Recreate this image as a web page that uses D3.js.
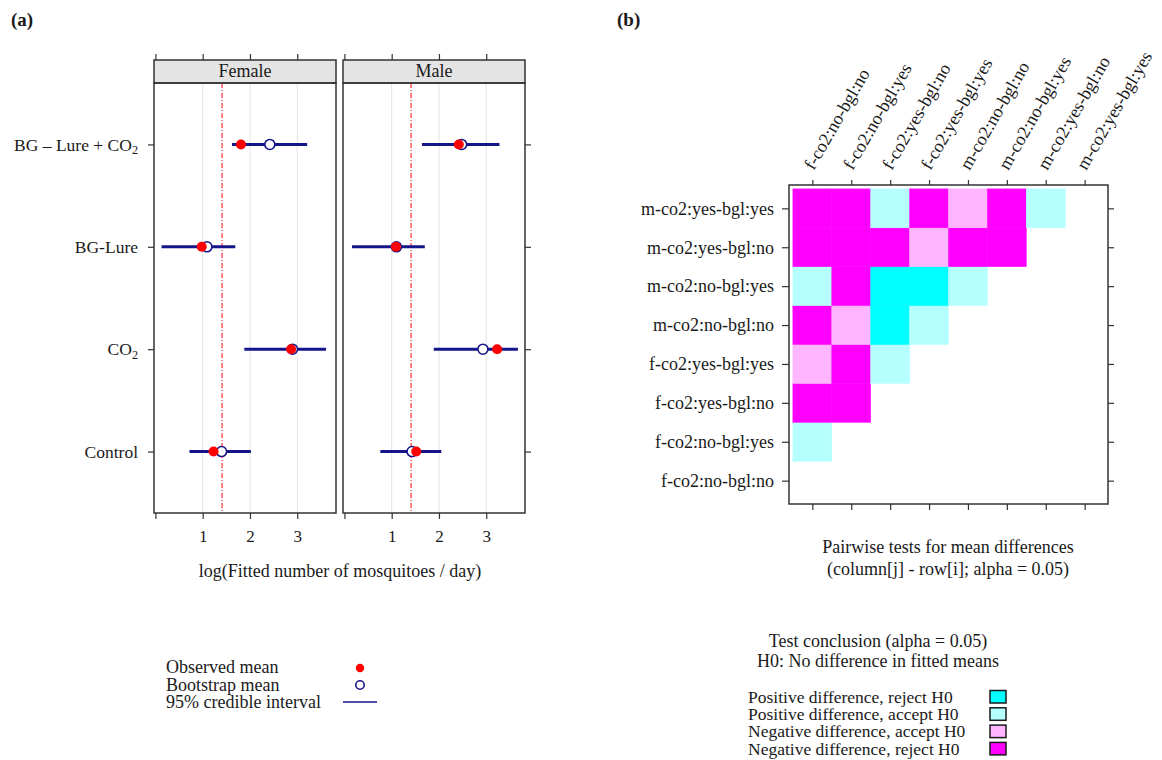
<!DOCTYPE html>
<html>
<head>
<meta charset="utf-8">
<script src="https://cdn.jsdelivr.net/npm/d3@7"></script>
<style>
  body { margin: 0; background: #fff; }
  svg { display: block; font-family: 'Liberation Serif', 'Times New Roman', serif; }
</style>
</head>
<body>
<div id="area"></div>
<script>
let width = 1162
let height = 760

// panel (a): log fitted mosquitoes per day
let treatments = ['BG – Lure + CO2', 'BG-Lure', 'CO2', 'Control']
let sexes = ['Female', 'Male']
let femaleObserved = [1.81, 0.98, 2.87, 1.23]
let femaleBootstrap = [2.42, 1.09, 2.90, 1.40]
let femaleLower = [1.62, 0.13, 1.88, 0.72]
let femaleUpper = [3.21, 1.69, 3.61, 2.02]
let maleObserved = [2.42, 1.09, 3.23, 1.52]
let maleBootstrap = [2.48, 1.10, 2.93, 1.43]
let maleLower = [1.64, 0.16, 1.89, 0.76]
let maleUpper = [3.28, 1.70, 3.67, 2.05]
let overallMean = 1.41
let xTicks = [0, 1, 2, 3]
let xTickLabels = ['', '1', '2', '3']
let legendA = ['Observed mean', 'Bootstrap mean', '95% credible interval']

// panel (b): pairwise tests, row i against columns j < i
let groups = ['f-co2:no-bgl:no', 'f-co2:no-bgl:yes', 'f-co2:yes-bgl:no', 'f-co2:yes-bgl:yes',
              'm-co2:no-bgl:no', 'm-co2:no-bgl:yes', 'm-co2:yes-bgl:no', 'm-co2:yes-bgl:yes']
// 1 = positive reject, 2 = positive accept, 3 = negative accept, 4 = negative reject
let testCodes = [
  [],
  [2],
  [4, 4],
  [3, 4, 2],
  [4, 3, 1, 2],
  [2, 4, 1, 1, 2],
  [4, 4, 4, 3, 4, 4],
  [4, 4, 2, 4, 3, 4, 2]
]
let conclusions = ['Positive difference, reject H0', 'Positive difference, accept H0',
                   'Negative difference, accept H0', 'Negative difference, reject H0']

let conclusion_colors = ['#00ffff', '#b5ffff', '#ffb5ff', '#ff00ff']
let ink = '#1a1a1a'
let frame = '#333333'
let navy = '#15158a'
let red = '#ff0000'

let svg = d3.select('#area').append('svg').attr('width', width).attr('height', height)
svg.append('rect').attr('width', width).attr('height', height).attr('fill', '#fff')

// writes "CO2" with a subscript 2
function chemLabel(sel, label) {
  let k = label.indexOf('CO2')
  if (k < 0) { sel.text(label); return }
  sel.append('tspan').text(label.slice(0, k + 2))
  sel.append('tspan').text('2').attr('font-size', '70%').attr('dy', '0.3em')
}

function styleAxis(g, size) {
  g.attr('font-family', null).attr('font-size', null)
  g.select('.domain').remove()
  g.selectAll('.tick line').attr('stroke', frame).attr('stroke-width', 1.2)
  g.selectAll('.tick text').attr('fill', ink).attr('font-size', size)
}

svg.append('text').attr('x', 11).attr('y', 26).attr('font-weight', 'bold')
  .attr('font-size', 19).attr('fill', ink).text('(a)')
svg.append('text').attr('x', 617).attr('y', 26).attr('font-weight', 'bold')
  .attr('font-size', 19).attr('fill', ink).text('(b)')

// ---- panel (a)
let plotTop = 83, plotBottom = 513, stripTop = 60
let panelLeft = [154, 343]
let panelWidth = 182
let yA = d3.scalePoint().domain(treatments).range([plotTop, plotBottom]).padding(0.6)
let sexData = [
  {obs: femaleObserved, boot: femaleBootstrap, lo: femaleLower, hi: femaleUpper},
  {obs: maleObserved, boot: maleBootstrap, lo: maleLower, hi: maleUpper}
]

sexes.forEach(function(sex, k) {
  let d = sexData[k]
  let x = d3.scaleLinear().domain([-0.03, 3.82]).range([panelLeft[k], panelLeft[k] + panelWidth])
  let g = svg.append('g')

  g.selectAll('line.grid').data(xTicks.slice(1)).enter().append('line')
    .attr('x1', v => x(v)).attr('x2', v => x(v))
    .attr('y1', plotTop).attr('y2', plotBottom)
    .attr('stroke', '#e3e3e3').attr('stroke-width', 1)

  g.append('line')
    .attr('x1', x(overallMean)).attr('x2', x(overallMean))
    .attr('y1', plotTop).attr('y2', plotBottom)
    .attr('stroke', red).attr('stroke-width', 1)
    .attr('stroke-dasharray', '5,2,1,2')

  g.selectAll('line.ci').data(treatments).enter().append('line')
    .attr('x1', (t, i) => x(d.lo[i])).attr('x2', (t, i) => x(d.hi[i]))
    .attr('y1', t => yA(t)).attr('y2', t => yA(t))
    .attr('stroke', navy).attr('stroke-width', 3)

  g.selectAll('circle.boot').data(treatments).enter().append('circle')
    .attr('cx', (t, i) => x(d.boot[i])).attr('cy', t => yA(t)).attr('r', 5)
    .attr('fill', '#fff').attr('stroke', navy).attr('stroke-width', 1.6)

  g.selectAll('circle.obs').data(treatments).enter().append('circle')
    .attr('cx', (t, i) => x(d.obs[i])).attr('cy', t => yA(t)).attr('r', 5)
    .attr('fill', red)

  g.append('rect').attr('x', panelLeft[k]).attr('y', stripTop)
    .attr('width', panelWidth).attr('height', plotTop - stripTop)
    .attr('fill', '#e4e4e4').attr('stroke', frame).attr('stroke-width', 1.5)
  g.append('text').attr('x', panelLeft[k] + panelWidth / 2).attr('y', stripTop + 17)
    .attr('text-anchor', 'middle').attr('font-size', 18).attr('fill', ink).text(sex)

  g.append('rect').attr('x', panelLeft[k]).attr('y', plotTop)
    .attr('width', panelWidth).attr('height', plotBottom - plotTop)
    .attr('fill', 'none').attr('stroke', frame).attr('stroke-width', 1.5)

  let bottom = g.append('g').attr('transform', 'translate(0,' + plotBottom + ')')
    .call(d3.axisBottom(x).tickValues(xTicks).tickFormat((v, i) => xTickLabels[i]).tickSize(6))
  styleAxis(bottom, 17)
  bottom.selectAll('.tick text').attr('y', 29).attr('dy', 0)

  let top = g.append('g').attr('transform', 'translate(0,' + stripTop + ')')
    .call(d3.axisTop(x).tickValues(xTicks).tickFormat('').tickSize(6))
  styleAxis(top, 17)

  if (k == 0) {
    let left = g.append('g').attr('transform', 'translate(' + panelLeft[k] + ',0)')
      .call(d3.axisLeft(yA).tickSize(6).tickPadding(10))
    styleAxis(left, 17.5)
    left.selectAll('.tick text').text(null).each(function(t) { chemLabel(d3.select(this), t) })
  } else {
    let right = g.append('g').attr('transform', 'translate(' + (panelLeft[k] + panelWidth) + ',0)')
      .call(d3.axisRight(yA).tickSize(6).tickFormat(''))
    styleAxis(right, 17)
  }
})

svg.append('text').attr('x', 340).attr('y', 577).attr('text-anchor', 'middle')
  .attr('font-size', 18).attr('fill', ink).text('log(Fitted number of mosquitoes / day)')

// legend (a)
let legA = svg.append('g')
legA.selectAll('text').data(legendA).enter().append('text')
  .attr('x', 166).attr('y', (t, i) => 673 + i * 17.5)
  .attr('font-size', 18).attr('fill', ink).text(t => t)
legA.append('circle').attr('cx', 360).attr('cy', 668).attr('r', 4.2).attr('fill', red)
legA.append('circle').attr('cx', 360).attr('cy', 685).attr('r', 4.2)
  .attr('fill', '#fff').attr('stroke', navy).attr('stroke-width', 1.6)
legA.append('line').attr('x1', 343).attr('x2', 377).attr('y1', 702).attr('y2', 702)
  .attr('stroke', navy).attr('stroke-width', 1.5)

// ---- panel (b)
let bLeft = 789, bTop = 185, bSize = 319
let colX = d3.scalePoint().domain(groups).range([bLeft, bLeft + bSize]).padding(0.6)
let rowY = d3.scalePoint().domain(groups).range([bTop + bSize, bTop]).padding(0.6)
let cell = colX.step()

let cells = []
testCodes.forEach(function(row, i) {
  row.forEach(function(code, j) {
    cells.push({row: groups[i], col: groups[j], code: code})
  })
})

svg.append('rect').attr('x', bLeft).attr('y', bTop).attr('width', bSize).attr('height', bSize)
  .attr('fill', '#fff')
svg.selectAll('rect.cell').data(cells).enter().append('rect')
  .attr('class', 'cell')
  .attr('x', c => colX(c.col) - cell / 2).attr('y', c => rowY(c.row) - cell / 2)
  .attr('width', cell).attr('height', cell)
  .attr('fill', c => conclusion_colors[c.code - 1])
  .attr('stroke', c => conclusion_colors[c.code - 1]).attr('stroke-width', 0.5)
svg.append('rect').attr('x', bLeft).attr('y', bTop).attr('width', bSize).attr('height', bSize)
  .attr('fill', 'none').attr('stroke', frame).attr('stroke-width', 1.5)

let colAxis = svg.append('g').attr('transform', 'translate(0,' + bTop + ')')
  .call(d3.axisTop(colX).tickSize(5))
styleAxis(colAxis, 18)
colAxis.selectAll('.tick text')
  .attr('x', 0).attr('y', 0).attr('dy', 0)
  .attr('text-anchor', 'start')
  .attr('transform', 'translate(1,-14) rotate(-60)')

let rowAxis = svg.append('g').attr('transform', 'translate(' + bLeft + ',0)')
  .call(d3.axisLeft(rowY).tickSize(7).tickPadding(8))
styleAxis(rowAxis, 18)

let colAxisB = svg.append('g').attr('transform', 'translate(0,' + (bTop + bSize) + ')')
  .call(d3.axisBottom(colX).tickSize(6).tickFormat(''))
styleAxis(colAxisB, 18)
let rowAxisR = svg.append('g').attr('transform', 'translate(' + (bLeft + bSize) + ',0)')
  .call(d3.axisRight(rowY).tickSize(6).tickFormat(''))
styleAxis(rowAxisR, 18)

svg.append('text').attr('x', 948).attr('y', 553).attr('text-anchor', 'middle')
  .attr('font-size', 18).attr('fill', ink).text('Pairwise tests for mean differences')
svg.append('text').attr('x', 948).attr('y', 575).attr('text-anchor', 'middle')
  .attr('font-size', 18).attr('fill', ink).text('(column[j] - row[i]; alpha = 0.05)')

// legend (b)
svg.append('text').attr('x', 878).attr('y', 647).attr('text-anchor', 'middle')
  .attr('font-size', 18).attr('fill', ink).text('Test conclusion (alpha = 0.05)')
svg.append('text').attr('x', 878).attr('y', 667).attr('text-anchor', 'middle')
  .attr('font-size', 18).attr('fill', ink).text('H0: No difference in fitted means')

let legB = svg.append('g')
legB.selectAll('text').data(conclusions).enter().append('text')
  .attr('x', 748).attr('y', (t, i) => 703 + i * 17.2)
  .attr('font-size', 17.5).attr('fill', ink).text(t => t)
legB.selectAll('rect').data(conclusions).enter().append('rect')
  .attr('x', 990).attr('y', (t, i) => 690.5 + i * 17.3)
  .attr('width', 16).attr('height', 12.5)
  .attr('fill', (t, i) => conclusion_colors[i])
  .attr('stroke', ink).attr('stroke-width', 1.5)
</script>
</body>
</html>
